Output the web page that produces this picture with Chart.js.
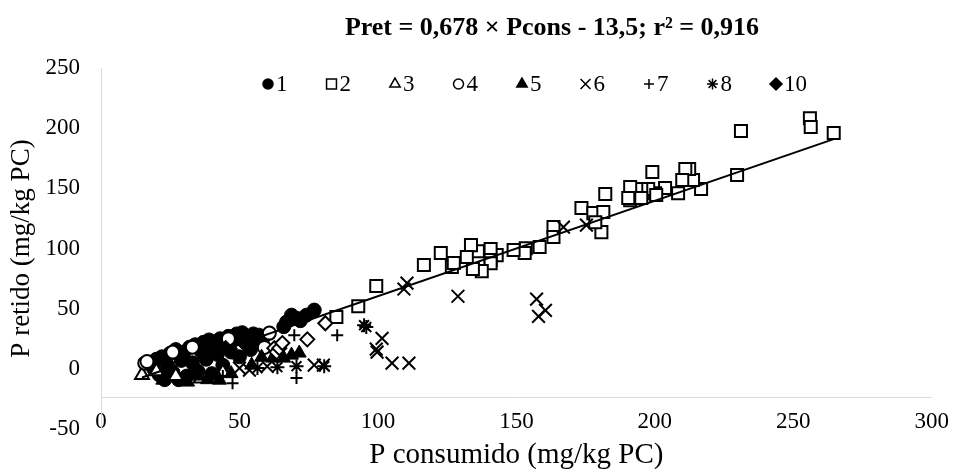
<!DOCTYPE html>
<html>
<head>
<meta charset="utf-8">
<script src="https://cdn.jsdelivr.net/npm/chart.js@4.4.0/dist/chart.umd.min.js"></script>
<style>
  html, body { margin: 0; padding: 0; background: #fff; }
</style>
</head>
<body>
<canvas id="chart" width="956" height="472"></canvas>
<script>
// series values (x = P consumido, y = P retido)
const s1X = [18, 19, 20, 21, 22, 23, 24, 25, 26, 27, 28, 29, 30, 31, 32, 33, 34, 35, 36, 37, 38, 39, 40, 41, 42, 43, 44, 45, 46, 47, 48, 49, 50, 51, 52, 53, 54, 55, 56, 57, 58, 59, 66, 67, 68.8, 70.6, 72, 74.2, 77];
const s1Y = [5, 0, 8, -5, 10, -9, 3, 13, -3, 16, -9, 7, 14, -6, 18, 5, 20, -2, 15, 22, 8, 24, -4, 18, 12, 25, 3, 21, 27, 14, 24, 29, 10, 30, 22, 27, 16, 29, 25, 28, 24, 27, 35, 38.9, 44.6, 42.1, 40, 44.6, 48.8];
const s2X = [256, 256.3, 264.6, 231.1, 229.7, 216.7, 213.8, 212.4, 211, 209.9, 208.4, 203.7, 200.1, 199.1, 197.6, 195.1, 193.3, 191.1, 191.1, 190.4, 195.1, 200.5, 182.1, 173.5, 177.8, 181.4, 180.7, 178.5, 163.4, 163.4, 158.4, 153.4, 153, 149, 142.9, 140.7, 140.7, 140.7, 137.5, 136.1, 133.6, 132.1, 134.3, 126.7, 127.4, 122.7, 116.6, 99.4, 92.9, 85];
const s2Y = [208.3, 200.9, 195.9, 197.6, 161, 149.4, 156.9, 166, 166, 156.9, 146, 150.2, 146, 163.5, 149.4, 149.4, 149.4, 151, 140.2, 141.9, 141.9, 144.4, 145.2, 133.6, 129.4, 130.3, 113.6, 121.9, 117.8, 109.5, 101.2, 100.3, 96.2, 98.7, 94.5, 99.5, 90.4, 87.8, 81.2, 97.8, 102.8, 92.9, 82.9, 84.6, 87.9, 96.2, 86.2, 68.8, 52.1, 43];
const s3X = [14.8, 20, 27, 36, 44];
const s3Y = [-5.2, -2, -6, -8, -3];
const s4X = [15.8, 16.6, 25.9, 33, 46, 59, 60.8];
const s4Y = [4.7, 6, 13.9, 18, 25, 17.8, 29.7];
const s5X = [22.3, 31.3, 35, 38.5, 42.8, 47, 54.4, 58, 62, 66, 68.8, 71.6];
const s5Y = [-9.4, -11, -6, -9, -9.4, -4, 3.1, 9.7, 8.9, 8.9, 11.4, 13.1];
const s6X = [50, 53.6, 60, 77, 80.3, 99.4, 99.7, 101.5, 105.1, 109.4, 110.5, 111.2, 128.9, 157.3, 158, 160.5, 167, 175.3];
const s6Y = [0.6, -1.1, 2, 3.1, 3.1, 16.4, 13.9, 25.3, 4.7, 66.3, 71.2, 4.7, 60.3, 57.9, 43.6, 48.6, 117.8, 119.4];
const s7X = [44, 47.5, 69.8, 70.6, 85.3];
const s7Y = [-6, -11.9, 27.9, -7.7, 27.9];
const s8X = [56.5, 63.7, 70.6, 80.6, 95, 95.8];
const s8Y = [0.6, 1.4, 2.2, 2.2, 36.3, 34.7];
const s9X = [62.6, 63.4, 64.4, 65.5, 74.5, 81];
const s9Y = [17.2, 13.9, 17.2, 21.4, 24.5, 37.9];
const s10X = [38, 45, 52];
const s10Y = [12, 18, 20];

// fitted line as drawn in the picture (ends at min and max P consumido)
const trendX = [14.8, 264.6];
const trendY = [-7.2, 190.9];

const titleText = 'Pret = 0,678 × Pcons - 13,5; r² = 0,916';
const xAxisCross = -23;

const pts = (xs, ys) => xs.map((x, i) => ({ x: x, y: ys[i] }));

const serif = '"Liberation Serif", "Times New Roman", serif';

const series = [
  { label: '1', xs: s1X, ys: s1Y, style: 'circle', filled: true, r: 7, lr: 5 },
  { label: '2', xs: s2X, ys: s2Y, style: 'rect', filled: false, r: 8.5, lr: 7 },
  { label: '3', xs: s3X, ys: s3Y, style: 'triangle', filled: false, r: 8, lr: 6 },
  { label: '4', xs: s4X, ys: s4Y, style: 'circle', filled: false, r: 6.5, lr: 5 },
  { label: '5', xs: s5X, ys: s5Y, style: 'triangle', filled: true, r: 8, lr: 6 },
  { label: '6', xs: s6X, ys: s6Y, style: 'crossRot', filled: false, r: 9, lr: 7 },
  { label: '7', xs: s7X, ys: s7Y, style: 'cross', filled: false, r: 6, lr: 5 },
  { label: '8', xs: s8X, ys: s8Y, style: 'star', filled: false, r: 7, lr: 5.5 },
  { label: '9', xs: s9X, ys: s9Y, style: 'rectRot', filled: false, r: 7, lr: 0 },
  { label: '10', xs: s10X, ys: s10Y, style: 'rectRot', filled: true, r: 7, lr: 6 }
];

const datasets = series.map((s, i) => ({
  label: s.label,
  data: pts(s.xs, s.ys),
  pointStyle: s.style,
  pointRadius: s.r,
  pointBorderWidth: s.filled ? 1 : 2,
  backgroundColor: s.filled ? '#000' : '#fff',
  borderColor: '#000',
  order: 20 - i,
  showLegend: s.lr > 0,
  legendRadius: s.lr
}));

datasets.push({
  type: 'line',
  label: 'trend',
  data: pts(trendX, trendY),
  borderColor: '#000',
  borderWidth: 2,
  pointRadius: 0,
  fill: false,
  order: 0,
  showLegend: false
});

// horizontal axis line crosses the value axis at xAxisCross
const axisLinePlugin = {
  id: 'axisLine',
  beforeDatasetsDraw(chart) {
    const a = chart.chartArea;
    const y = Math.round(chart.scales.y.getPixelForValue(xAxisCross)) + 0.5;
    const c = chart.ctx;
    c.save();
    c.strokeStyle = '#d9d9d9';
    c.lineWidth = 1;
    c.beginPath();
    c.moveTo(a.left, y);
    c.lineTo(a.right, y);
    c.stroke();
    c.restore();
  }
};

// title and legend sit inside the plot area, as in the picture
const headerPlugin = {
  id: 'header',
  afterDraw(chart) {
    const ctx = chart.ctx;
    ctx.save();
    ctx.fillStyle = '#000';
    ctx.textBaseline = 'middle';
    ctx.textAlign = 'center';
    ctx.font = 'bold 26px ' + serif;
    ctx.fillText(titleText, 552, 28);

    ctx.font = '23px ' + serif;
    ctx.textAlign = 'left';
    let x = 263;
    const y = 84;
    chart.data.datasets.forEach(ds => {
      if (!ds.showLegend) return;
      ctx.fillStyle = ds.backgroundColor;
      ctx.strokeStyle = '#000';
      ctx.lineWidth = 1.5;
      Chart.helpers.drawPoint(ctx, {
        pointStyle: ds.pointStyle,
        radius: ds.legendRadius,
        borderWidth: 1.5,
        rotation: 0
      }, x + 5, y);
      ctx.fillStyle = '#000';
      ctx.fillText(ds.label, x + 13, y + 1);
      x += 13 + ctx.measureText(ds.label).width + 39;
    });
    ctx.restore();
  }
};

const ctx = document.getElementById('chart').getContext('2d');
new Chart(ctx, {
  type: 'scatter',
  data: { datasets: datasets },
  options: {
    responsive: false,
    animation: false,
    devicePixelRatio: 1,
    layout: { padding: { left: 0, top: 68, right: 21, bottom: 0 } },
    plugins: {
      legend: { display: false },
      title: { display: false },
      tooltip: { enabled: false }
    },
    scales: {
      x: {
        type: 'linear',
        position: 'bottom',
        min: 0,
        max: 300,
        ticks: { stepSize: 50, mirror: true, padding: 7, crossAlign: 'center', color: '#000', font: { family: serif, size: 23 } },
        grid: { display: false, drawTicks: false },
        border: { display: false },
        title: {
          display: true,
          text: 'P consumido (mg/kg PC)',
          color: '#000',
          font: { family: serif, size: 29 },
          padding: { top: 0, bottom: -1 }
        },
        afterFit(scale) { scale.height = 43; }
      },
      y: {
        type: 'linear',
        position: 'left',
        min: -50,
        max: 250,
        ticks: { stepSize: 50, padding: 21, color: '#000', font: { family: serif, size: 23 } },
        grid: { display: false, drawTicks: false },
        border: { color: '#d9d9d9', width: 1 },
        title: {
          display: true,
          text: 'P retido (mg/kg PC)',
          color: '#000',
          font: { family: serif, size: 27 },
          padding: { top: 6, bottom: 0 }
        },
        afterFit(scale) { scale.width = 101; }
      }
    }
  },
  plugins: [axisLinePlugin, headerPlugin]
});
</script>
</body>
</html>
